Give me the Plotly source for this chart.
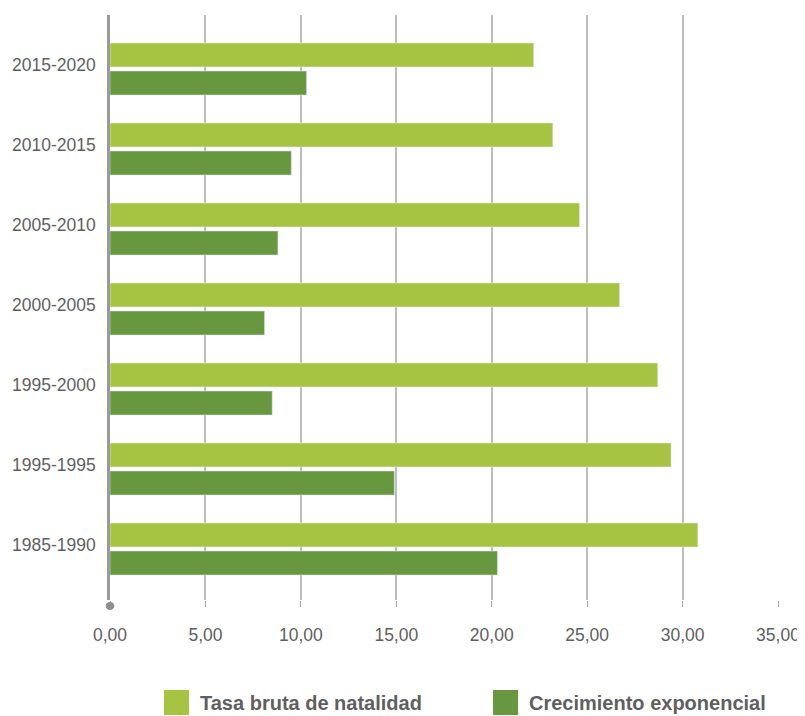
import plotly.graph_objects as go

# periods, top to bottom as in the chart
periodos = ['2015-2020', '2010-2015', '2005-2010', '2000-2005',
            '1995-2000', '1995-1995', '1985-1990']
natalidad = [22.2, 23.2, 24.6, 26.7, 28.7, 29.4, 30.8]
crecimiento = [10.3, 9.5, 8.8, 8.1, 8.5, 14.9, 20.3]

nombres = ['Tasa bruta de natalidad', 'Crecimiento exponencial']
colores = ['#A6C441', '#67983F']
x_ticks = [0, 5, 10, 15, 20, 25, 30, 35]

fuente = 'Liberation Sans, Arial, sans-serif'
gris = '#5f5f5f'

fig = go.Figure()
fig.add_trace(go.Bar(y=periodos, x=natalidad, orientation='h', name=nombres[0],
                     marker_color=colores[0], width=0.3, offset=-0.325,
                     showlegend=False))
fig.add_trace(go.Bar(y=periodos, x=crecimiento, orientation='h', name=nombres[1],
                     marker_color=colores[1], width=0.3, offset=0.025,
                     showlegend=False))

# custom legend (big square swatches)
shapes = []
annotations = []
for i, (nom, col) in enumerate(zip(nombres, colores)):
    x0 = [0.0808, 0.5734][i]
    shapes.append(dict(type='rect', xref='paper', yref='paper',
                       x0=x0, x1=x0 + 0.0375, y0=-0.1966, y1=-0.1538,
                       fillcolor=col, line_width=0))
    annotations.append(dict(text='<b>' + nom + '</b>', xref='paper', yref='paper',
                            x=x0 + 0.051, y=-0.176, xanchor='left', yanchor='middle',
                            showarrow=False, font=dict(family=fuente, size=20, color=gris)))

# dot at the foot of the vertical axis
shapes.append(dict(type='circle', xref='paper', yref='paper',
                   x0=-0.0065, x1=0.0065, y0=-0.0171, y1=-0.0034,
                   fillcolor='#8f8f8f', line_width=0))

# page body has an 8px margin, so the figure is 8px smaller and shifted
fig.update_layout(
    width=797, height=708,
    margin=dict(l=102, r=27, t=7, b=116),
    plot_bgcolor='white', paper_bgcolor='white',
    barmode='overlay',
    separators=',.',
    font=dict(family=fuente, size=17.5, color=gris),
    shapes=shapes, annotations=annotations,
    xaxis=dict(range=[0, 35], tickvals=x_ticks, tickformat='.2f',
               automargin=False,
               showgrid=True, gridcolor='#bdbdbd', gridwidth=1.5,
               zeroline=False, showline=False,
               ticks='outside', ticklen=6, tickcolor='#a8a8a8', tickwidth=1,
               ticklabelstandoff=13,
               tickfont=dict(family=fuente, size=17.5, color=gris)),
    yaxis=dict(categoryorder='array', categoryarray=periodos,
               range=[6.6375, -0.675], showgrid=False, zeroline=False,
               automargin=False,
               showline=True, linecolor='#9a9a9a', linewidth=2.5,
               ticks='', ticklabelstandoff=8, ticklabelshift=4,
               tickfont=dict(family=fuente, size=17.5, color=gris)),
)

fig.write_html('out.html')
